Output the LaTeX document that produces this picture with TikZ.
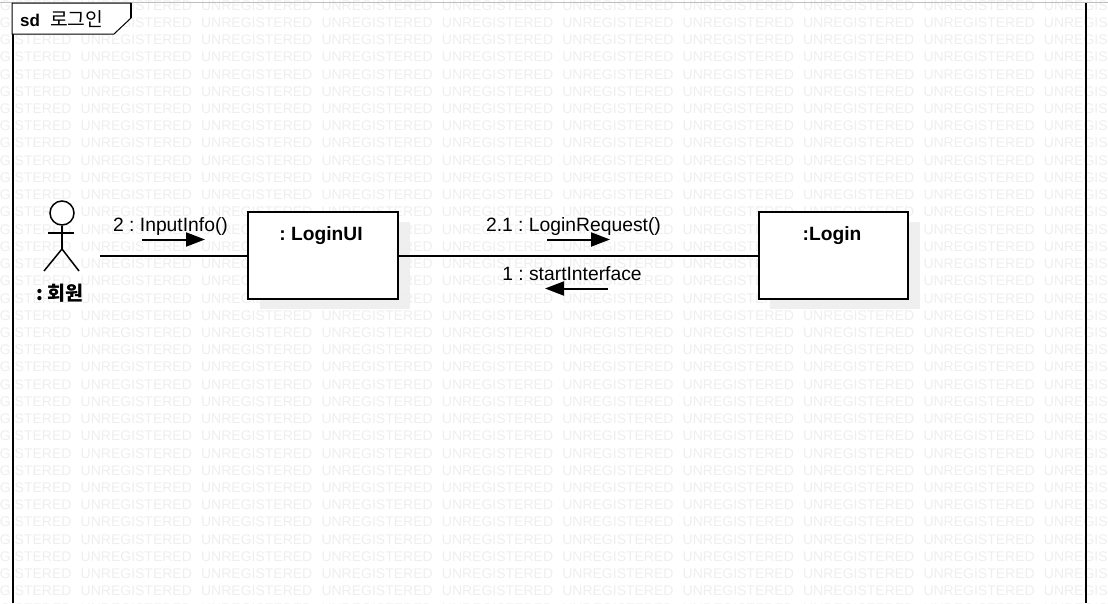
\documentclass[tikz,border=0pt]{standalone}
\usepackage{fontspec}
\setmainfont{Liberation Sans}
\newfontfamily\krfont{Noto Sans CJK KR}
\usetikzlibrary{arrows.meta}
\usetikzlibrary{positioning}
\frenchspacing
\tikzset{
    objbox/.style={
           rectangle,
           draw=black, line width=2pt,
           fill=white,
           minimum width=150pt,
           minimum height=87pt,
           inner sep=0pt,
           },
    objshadow/.style={
           rectangle,
           fill=shadowgrey,
           minimum width=150pt,
           minimum height=87pt,
           inner sep=0pt,
           },
    objname/.style={
           font=\fontsize{19.2}{22}\selectfont\bfseries,
           inner sep=0pt,
           },
    msg/.style={
           font=\fontsize{19.3}{22}\selectfont,
           inner sep=0pt,
           },
    wmark/.style={
           font=\fontsize{14}{17}\selectfont,
           text=wmgrey,
           inner sep=0pt,
           anchor=west,
           },
    link/.style={draw=black, line width=2pt},
    msgarrow/.style={draw=black, line width=2pt, -{Triangle[length=19pt,width=14pt]}},
    limb/.style={draw=black, line width=1.5pt},
}
\definecolor{wmgrey}{HTML}{EEEEEE}
\definecolor{shadowgrey}{HTML}{EFEFEF}

\begin{document}
\begin{tikzpicture}[x=1pt,y=1pt]
 \useasboundingbox (0,0) rectangle (1108,-603);

 % shadows go under the watermark
 \node[objshadow] (UIshadow) at (335,-265.5) {};
 \node[objshadow] (Loginshadow) at (845,-265.5) {};

 % watermark rows
 \begin{scope}
 \clip (0,0) rectangle (1108,-603);
 \foreach \r in {-1,...,34}
  \foreach \c in {-1,...,9}
   \node[wmark] (wm\r-\c) at (80.5+120.4*\c,-22.5-17.23*\r) {UNREGISTERED};
 \end{scope}

 % top edge and frame
 \draw[color=black!25, line width=1pt] (0,-2.5) -- (1108,-2.5);
 \coordinate (frameTL) at (13,-3);
 \coordinate (frameBL) at (13,-603);
 \coordinate (frameTR) at (1086,-3);
 \coordinate (frameBR) at (1086,-603);
 \draw[link] (frameTL) -- (frameBL);
 \draw[link] (frameTR) -- (frameBR);

 % frame tab
 \draw[fill=white, draw=black, line width=1pt]
    (12,-3) -- (131,-3) -- (131,-18) -- (114,-34) -- (12,-34) -- cycle;
 \draw[line width=2pt] (131,-3) -- (131,-18);
 \node[inner sep=0pt, anchor=west, font=\fontsize{17}{20}\selectfont] (tabname) at (20,-19)
    {\textbf{sd}\hspace{10pt}{\fontsize{19.3}{22}\selectfont\krfont 로그인}};

 % actor
 \node[circle, draw=black, line width=1.5pt, fill=white, minimum size=24pt, inner sep=0pt] (head) at (62,-213) {};
 \coordinate (hip) at (62,-249);
 \coordinate (armL) at (48,-233);
 \coordinate (armR) at (74,-233);
 \coordinate (footL) at (44,-271);
 \coordinate (footR) at (79,-271);
 \draw[limb] (head) -- (hip);
 \draw[limb] (armL) -- (armR);
 \draw[limb] (footL) -- (hip) -- (footR);
 \node[objname, font=\fontsize{19.5}{22}\selectfont\bfseries\krfont] (actorname) at (60,-293) {: 회원};

 % objects
 \node[objbox] (LoginUI) at (323,-255.5) {};
 \node[objbox, minimum width=149pt] (Login) at (833.5,-255.5) {};
 \node[objname, below=15.5pt of LoginUI.north, xshift=-2pt] (UIname) {: LoginUI};
 \node[objname, below=15.5pt of Login.north, xshift=-1.5pt] (Loginname) {:Login};

 % links
 \coordinate (actorend) at (100,-255.5);
 \path[link] (actorend) edge (LoginUI)
       (LoginUI) edge (Login);

 % messages
 \node[msg] (m2) at (170.5,-226.5) {2 : InputInfo()};
 \node[msg] (m21) at (573.5,-226.5) {2.1 : LoginRequest()};
 \node[msg] (m1) at (572,-273.5) {1 : startInterface};
 \coordinate (m2a) at (142,-239.5);
 \coordinate (m2b) at (205,-239.5);
 \coordinate (m21a) at (547,-239.5);
 \coordinate (m21b) at (610,-239.5);
 \coordinate (m1a) at (608,-288.5);
 \coordinate (m1b) at (545,-288.5);
 \draw[msgarrow] (m2a) -- (m2b);
 \draw[msgarrow] (m21a) -- (m21b);
 \draw[msgarrow] (m1a) -- (m1b);
\end{tikzpicture}
\end{document}
